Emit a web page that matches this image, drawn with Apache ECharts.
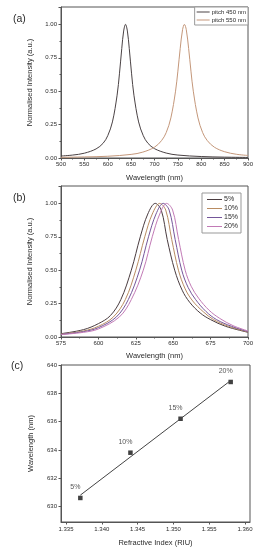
<!DOCTYPE html>
<html>
<head>
<meta charset="utf-8">
<script src="https://cdn.jsdelivr.net/npm/echarts@6/dist/echarts.min.js"></script>
<style>
html,body{margin:0;padding:0;background:#fff;}
#c{width:258px;height:550px;}
</style>
</head>
<body>
<div id="c"></div>
<script>
// ---- Panel (a): spectra for two pitches ----
const pitch450 = [[500,0.015],[525,0.022],[550,0.036],[575,0.068],[590,0.11],[600,0.167],[610,0.27],[620,0.47],[625,0.63],[630,0.82],[634,0.95],[638,1.0],[642,0.95],[646,0.82],[651,0.63],[656,0.47],[666,0.27],[676,0.167],[686,0.11],[700,0.07],[725,0.037],[750,0.022],[800,0.011],[850,0.0064],[900,0.0042]];
const pitch550 = [[500,0.005],[550,0.008],[600,0.013],[650,0.027],[675,0.044],[700,0.081],[715,0.13],[725,0.19],[735,0.30],[745,0.5],[750,0.65],[755,0.82],[760,0.96],[764,1.0],[768,0.96],[773,0.82],[778,0.65],[783,0.5],[793,0.30],[803,0.19],[813,0.13],[828,0.081],[850,0.047],[875,0.028],[900,0.019]];
const namesA = ['pitch 450 nm','pitch 550 nm'];

// ---- Panel (b): spectra for four concentrations ----
const conc5  = [[575,0.025],[590,0.055],[600,0.10],[608,0.16],[615,0.28],[622,0.50],[628,0.75],[633,0.92],[638,1.0],[642,0.95],[646,0.73],[651,0.50],[656,0.35],[661,0.26],[668,0.18],[675,0.13],[685,0.08],[700,0.035]];
const conc10 = [[575,0.022],[590,0.045],[600,0.08],[610,0.15],[618,0.28],[625,0.50],[631,0.75],[636,0.92],[641,1.0],[645,0.95],[649,0.73],[653.5,0.50],[658,0.36],[663,0.27],[670,0.19],[677,0.13],[687,0.08],[700,0.037]];
const conc15 = [[575,0.02],[590,0.04],[600,0.07],[612,0.15],[620,0.28],[627.5,0.50],[633.5,0.75],[638.5,0.92],[643.3,1.0],[647.3,0.95],[651.3,0.73],[655.7,0.50],[660,0.37],[665,0.28],[672,0.19],[679,0.13],[689,0.08],[700,0.04]];
const conc20 = [[575,0.018],[590,0.035],[600,0.06],[614,0.15],[622,0.28],[630,0.50],[636,0.75],[641,0.92],[645.6,1.0],[649.6,0.95],[653.6,0.73],[658,0.50],[662,0.38],[667,0.29],[674,0.2],[681,0.14],[690,0.085],[700,0.045]];
const namesB = ['5%','10%','15%','20%'];

// ---- Panel (c): peak wavelength vs refractive index ----
const refIndex = [1.337, 1.344, 1.351, 1.358];
const peakWl = [630.6, 633.8, 636.2, 638.8];
const pctLabels = ['5%','10%','15%','20%'];
const fitX = [1.337, 1.358];
const fitY = [630.8, 638.9];

// tick labels
const ticksC_x = [1.335,1.340,1.345,1.350,1.355,1.360];
const ticksC_y = [630,632,634,636,638,640];

const FONT = 'Liberation Sans, Arial, sans-serif';
const TXT = '#2b2b2b';
const AX = '#555';

function xAxisBase(gi, min, max, interval, name, gap) {
  return {
    type:'value', gridIndex:gi, min:min, max:max, interval:interval,
    name:name, nameLocation:'middle', nameGap:gap,
    nameTextStyle:{fontSize:7.5, color:TXT, fontFamily:FONT},
    axisLine:{show:true, lineStyle:{color:AX, width:1}},
    axisTick:{show:true, length:2.5, lineStyle:{color:AX}},
    minorTick:{show:true, splitNumber:2, length:1.5, lineStyle:{color:AX}},
    axisLabel:{fontSize:6, color:TXT, margin:3, fontFamily:FONT},
    splitLine:{show:false}
  };
}
function yAxisInt(gi) {
  return {
    type:'value', gridIndex:gi, min:0, max:1.13, interval:0.25,
    name:'Normalised Intensity (a.u.)', nameLocation:'middle', nameGap:25,
    nameTextStyle:{fontSize:7.5, color:TXT, fontFamily:FONT},
    axisLine:{show:true, lineStyle:{color:AX, width:1}},
    axisTick:{show:true, length:2.5, lineStyle:{color:AX}},
    minorTick:{show:true, splitNumber:2, length:1.5, lineStyle:{color:AX}},
    axisLabel:{fontSize:6, color:TXT, margin:4, fontFamily:FONT, showMaxLabel:false,
      formatter: v => v.toFixed(2)},
    splitLine:{show:false}
  };
}

const colA = ['#4a4244','#c4977a'];
const colB = ['#4a3c40','#b98c62','#74569a','#c27ab6'];

const chart = echarts.init(document.getElementById('c'), null, {renderer:'canvas'});
const gridStyle = {show:true, borderColor:AX, borderWidth:1, backgroundColor:'transparent', containLabel:false};

function lineSeries(name, xi, data, color) {
  return {name:name, type:'line', xAxisIndex:xi, yAxisIndex:xi, data:data, symbol:'none',
    smooth:0.35, lineStyle:{width:1, color:color}, itemStyle:{color:color}};
}

const option = {
  backgroundColor:'#fff',
  animation:false,
  textStyle:{fontFamily:FONT},
  title:[
    {text:'(a)', left:8, top:9, textStyle:{fontSize:10.5, fontWeight:'normal', color:TXT, fontFamily:FONT}},
    {text:'(b)', left:8, top:188, textStyle:{fontSize:10.5, fontWeight:'normal', color:TXT, fontFamily:FONT}},
    {text:'(c)', left:6, top:356, textStyle:{fontSize:10.5, fontWeight:'normal', color:TXT, fontFamily:FONT}}
  ],
  grid:[
    Object.assign({left:61, top:7, width:187, height:151}, gridStyle),
    Object.assign({left:61, top:186, width:187, height:151}, gridStyle),
    Object.assign({left:61, top:365, width:189, height:157}, gridStyle)
  ],
  legend:[
    {data:namesA, orient:'vertical', right:10, top:7, icon:'rect', itemWidth:13, itemHeight:1, itemGap:2,
     padding:[2,2,2,2], borderColor:'#999', borderWidth:1, backgroundColor:'#fff',
     textStyle:{fontSize:6, color:TXT, fontFamily:FONT, padding:[0,0,0,-3]}},
    {data:namesB, orient:'vertical', left:202, top:193, icon:'rect', itemWidth:15, itemHeight:1, itemGap:2,
     padding:[3,3,3,5], borderColor:'#999', borderWidth:1, backgroundColor:'#fff',
     textStyle:{fontSize:7, color:TXT, fontFamily:FONT, padding:[0,0,0,-3]}}
  ],
  xAxis:[
    xAxisBase(0, 500, 900, 50, 'Wavelength (nm)', 16),
    xAxisBase(1, 575, 700, 25, 'Wavelength (nm)', 15),
    {
      type:'value', gridIndex:2, min:1.3343, max:1.3607,
      name:'Refractive Index (RIU)', nameLocation:'middle', nameGap:17,
      nameTextStyle:{fontSize:7.5, color:TXT, fontFamily:FONT},
      axisLine:{show:true, lineStyle:{color:AX, width:1}},
      axisTick:{show:true, length:2.5, lineStyle:{color:AX}, customValues:ticksC_x},
      axisLabel:{fontSize:6, color:TXT, margin:4, fontFamily:FONT, customValues:ticksC_x,
        formatter: v => v.toFixed(3)},
      splitLine:{show:false}
    }
  ],
  yAxis:[
    yAxisInt(0),
    yAxisInt(1),
    {
      type:'value', gridIndex:2, min:628.9, max:640,
      name:'Wavelength (nm)', nameLocation:'middle', nameGap:26,
      nameTextStyle:{fontSize:7.5, color:TXT, fontFamily:FONT},
      axisLine:{show:true, lineStyle:{color:AX, width:1}},
      axisTick:{show:true, length:2.5, lineStyle:{color:AX}, customValues:ticksC_y},
      axisLabel:{fontSize:6, color:TXT, margin:4, fontFamily:FONT, customValues:ticksC_y},
      splitLine:{show:false}
    }
  ],
  series:[
    lineSeries(namesA[0], 0, pitch450, colA[0]),
    lineSeries(namesA[1], 0, pitch550, colA[1]),
    lineSeries(namesB[0], 1, conc5, colB[0]),
    lineSeries(namesB[1], 1, conc10, colB[1]),
    lineSeries(namesB[2], 1, conc15, colB[2]),
    lineSeries(namesB[3], 1, conc20, colB[3]),
    {name:'fit', type:'line', xAxisIndex:2, yAxisIndex:2, data:fitX.map((x,i)=>[x,fitY[i]]), symbol:'none', lineStyle:{width:1, color:'#444'}},
    {name:'peaks', type:'scatter', xAxisIndex:2, yAxisIndex:2, symbol:'rect', symbolSize:4.5,
     itemStyle:{color:'#111'},
     data:refIndex.map((x,i)=>({value:[x,peakWl[i]], name:pctLabels[i]})),
     label:{show:true, position:'top', offset:[-5,0], formatter:p=>p.name, fontSize:7, color:TXT, fontFamily:FONT}}
  ]
};
chart.setOption(option);
</script>
</body>
</html>
